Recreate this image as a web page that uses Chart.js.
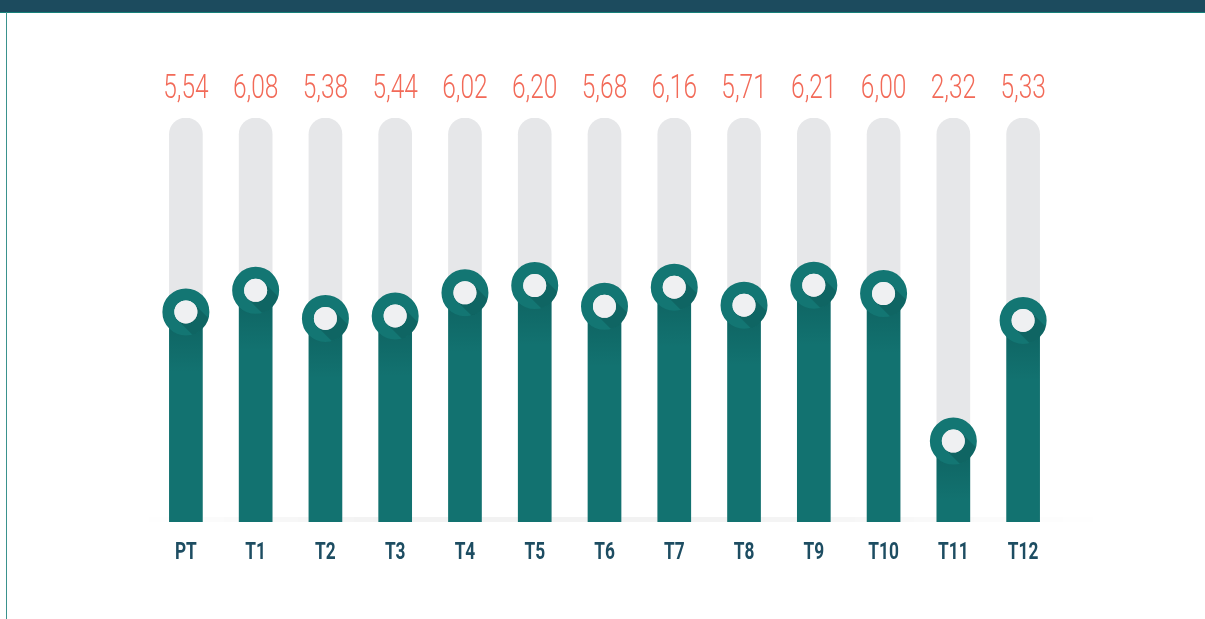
<!DOCTYPE html>
<html>
<head>
<meta charset="utf-8">
<script src="https://cdn.jsdelivr.net/npm/chart.js@4.4.1/dist/chart.umd.min.js"></script>
<style>
  html, body { margin: 0; padding: 0; background: #fff; }
  #wrap { position: relative; width: 1205px; height: 619px; overflow: hidden; }
  #topbar { position: absolute; left: 0; top: 0; width: 1205px; height: 12px; background: #1c4b5e; border-bottom: 1px solid #168079; }
  #leftline { position: absolute; left: 6px; top: 12px; width: 1px; height: 607px; background: #3a928d; }
  canvas { position: absolute; left: 0; top: 0; }
</style>
</head>
<body>
<div id="wrap">
  <canvas id="chart" width="1205" height="619"></canvas>
  <div id="topbar"></div>
  <div id="leftline"></div>
</div>
<script>
const categories = ['PT', 'T1', 'T2', 'T3', 'T4', 'T5', 'T6', 'T7', 'T8', 'T9', 'T10', 'T11', 'T12'];
const values = [5.54, 6.08, 5.38, 5.44, 6.02, 6.20, 5.68, 6.16, 5.71, 6.21, 6.00, 2.32, 5.33];
const yMin = 0.3;
const yMax = 10.38;

const teal = '#127270';
const ring = '#137673';
const coral = '#f26a58';
const labelBlue = '#1d4d62';

// faint shadow under the baseline
const baselinePlugin = {
  id: 'baseline',
  beforeDatasetsDraw(chart) {
    const ctx = chart.ctx;
    const y = chart.chartArea.bottom;
    ctx.save();
    const g = ctx.createLinearGradient(140, 0, 1108, 0);
    g.addColorStop(0, 'rgba(0,0,0,0)');
    g.addColorStop(0.25, 'rgba(0,0,0,0.05)');
    g.addColorStop(0.6, 'rgba(0,0,0,0.05)');
    g.addColorStop(1, 'rgba(0,0,0,0)');
    ctx.fillStyle = g;
    ctx.fillRect(140, y - 5, 968, 5);
    ctx.restore();
  }
};

// darker shade on the teal bar just under each circle
const barShadePlugin = {
  id: 'barShade',
  afterDatasetDraw(chart, args) {
    if (args.index !== 1) return;
    const ctx = chart.ctx;
    args.meta.data.forEach(bar => {
      const w = bar.width;
      const g = ctx.createLinearGradient(0, bar.y, 0, bar.y + 60);
      g.addColorStop(0, 'rgba(0,40,40,0.22)');
      g.addColorStop(1, 'rgba(0,40,40,0)');
      ctx.save();
      ctx.fillStyle = g;
      ctx.fillRect(bar.x - w / 2, bar.y, w, 60);
      ctx.restore();
    });
  }
};

// long shadow inside the ring, value labels on top, category labels below
const labelsPlugin = {
  id: 'labels',
  afterDatasetsDraw(chart) {
    const ctx = chart.ctx;
    const meta = chart.getDatasetMeta(0);
    meta.data.forEach((pt, i) => {
      const x = pt.x, y = pt.y;
      ctx.save();
      ctx.beginPath();
      ctx.arc(x, y, 23.5, 0, Math.PI * 2);
      ctx.clip();
      ctx.translate(x, y);
      ctx.rotate(Math.PI / 4);
      ctx.fillStyle = 'rgba(0,30,30,0.18)';
      ctx.fillRect(0, -11.5, 30, 23);
      ctx.restore();
      ctx.save();
      ctx.beginPath();
      ctx.arc(x, y, 11.5, 0, Math.PI * 2);
      ctx.fillStyle = '#eff0f2';
      ctx.fill();
      ctx.restore();

      const txt = values[i].toFixed(2).replace('.', ',');
      ctx.save();
      ctx.translate(x, 89);
      ctx.scale(0.72, 1);
      ctx.font = '300 34px Roboto';
      ctx.fillStyle = coral;
      ctx.textAlign = 'center';
      ctx.textBaseline = 'middle';
      ctx.fillText(txt, 0, 0);
      ctx.restore();
    });

    const xs = chart.scales.x;
    xs.ticks.forEach((t, i) => {
      const px = xs.getPixelForTick(i);
      ctx.save();
      ctx.translate(px, 553);
      ctx.scale(0.72, 1);
      ctx.font = 'bold 24px Roboto';
      ctx.fillStyle = labelBlue;
      ctx.textAlign = 'center';
      ctx.textBaseline = 'middle';
      ctx.fillText(xs.getLabelForValue(t.value), 0, 0);
      ctx.restore();
    });
  }
};

new Chart(document.getElementById('chart'), {
  type: 'bar',
  data: {
    labels: categories,
    datasets: [
      {
        type: 'line',
        data: values,
        showLine: false,
        pointRadius: 17.5,
        pointHoverRadius: 17.5,
        pointBorderWidth: 12,
        pointHoverBorderWidth: 12,
        pointBorderColor: ring,
        pointBackgroundColor: '#eff0f2',
        order: 0
      },
      {
        data: values,
        backgroundColor: teal,
        barThickness: 33,
        order: 1
      },
      {
        data: values.map(() => yMax),
        backgroundColor: '#e6e7e9',
        barThickness: 33,
        borderRadius: 16.5,
        order: 2
      }
    ]
  },
  options: {
    responsive: false,
    animation: false,
    events: [],
    layout: { padding: { left: 151, right: 147, top: 118, bottom: 37 } },
    plugins: { legend: { display: false }, tooltip: { enabled: false } },
    scales: {
      x: {
        stacked: true,
        grid: { display: false, drawTicks: false },
        border: { display: false },
        ticks: { display: false },
        afterFit(scale) { scale.height = 60; }
      },
      y: {
        display: false,
        min: yMin,
        max: yMax
      }
    }
  },
  plugins: [baselinePlugin, barShadePlugin, labelsPlugin]
});
</script>
</body>
</html>
